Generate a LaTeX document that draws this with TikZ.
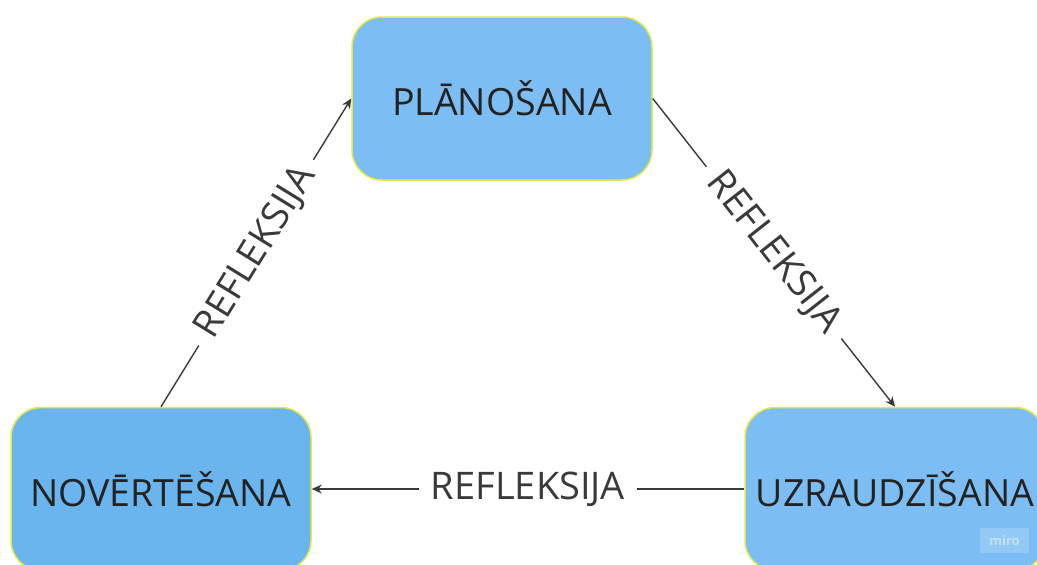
\documentclass[tikz,border=0pt]{standalone}
\usepackage{fontspec}
\setmainfont{Open Sans}
\usetikzlibrary{arrows.meta}
\definecolor{boxblue}{HTML}{7CBEF3}
\definecolor{boxblueB}{HTML}{6BB5EF}
\definecolor{boxedge}{HTML}{E6E84A}
\definecolor{linegray}{HTML}{3A3A3A}
\definecolor{txtdark}{HTML}{222222}
\tikzset{
  stagebox/.style={draw=boxedge, line width=1.5pt, fill=boxblue, rounded corners=30pt,
    minimum width=300pt, minimum height=163pt, inner sep=0pt,
    text=txtdark, font=\fontsize{37.5}{42}\selectfont},
  flow/.style={draw=linegray, line width=1.4pt, -{Stealth[length=10pt,width=9pt]}},
  flowlabel/.style={fill=white, text=linegray, inner xsep=12pt, inner ysep=2pt,
    font=\fontsize{38}{42}\selectfont}
}
\begin{document}
\begin{tikzpicture}[x=1pt,y=-1pt]
\useasboundingbox (0,0) rectangle (1037,565);
\clip (0,0) rectangle (1037,565);
\fill[white] (0,0) rectangle (1037,565);
\node[stagebox] (plan) at (502,98.5) {PLĀNOŠANA};
\node[stagebox, fill=boxblueB] (nov) at (161,489) {NOVĒRTĒŠANA};
\node[stagebox] (uzr) at (895,489) {UZRAUDZĪŠANA};
\draw[flow] (nov.north) -- node[flowlabel, sloped] (l1) {REFLEKSIJA} (plan.west);
\draw[flow] (plan.east) -- node[flowlabel, sloped] (l2) {REFLEKSIJA} (uzr.north);
\draw[flow] (uzr.west) -- node[flowlabel] (l3) {REFLEKSIJA} (nov.east);
\node[fill=white, fill opacity=0.18, text opacity=0.45, text=white, minimum width=49pt,
  minimum height=25pt, inner sep=0pt, font=\fontsize{13}{15}\selectfont\bfseries]
  (miro) at (1004.5,540.5) {miro};
\end{tikzpicture}
\end{document}
